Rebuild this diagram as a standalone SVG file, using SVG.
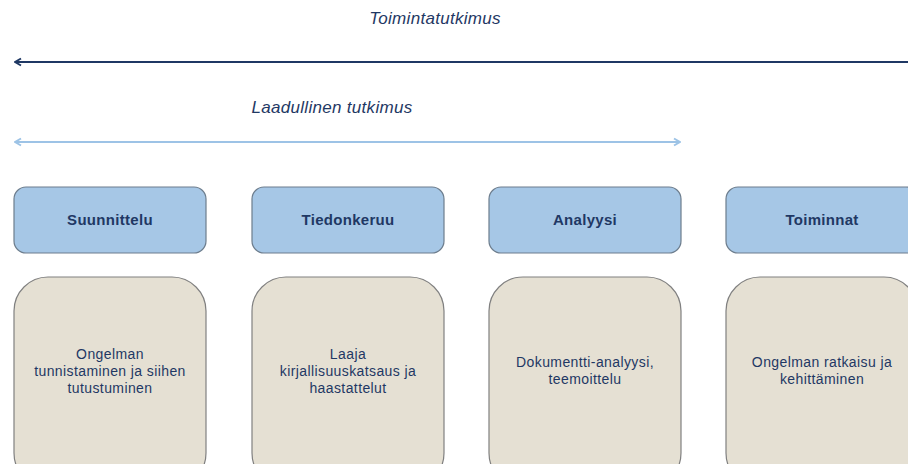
<svg xmlns="http://www.w3.org/2000/svg" width="908" height="464" viewBox="0 0 908 464">
<defs>
<style>
.title{font-family:"Liberation Sans",Arial,sans-serif;font-style:italic;font-size:17px;letter-spacing:0.3px;fill:#1f3864;text-anchor:middle}
.hdr rect{fill:#a6c7e6;stroke:#6d7d8d;stroke-width:1.2}
.hdr text{font-family:"Liberation Sans",Arial,sans-serif;font-weight:bold;font-size:15px;letter-spacing:0.3px;fill:#1f3864;text-anchor:middle}
.body rect{fill:#e5e0d3;stroke:#808080;stroke-width:1.2}
.body text{font-family:"Liberation Sans",Arial,sans-serif;font-size:14px;letter-spacing:0.4px;fill:#1f3864;text-anchor:middle}
</style>
<marker id="ahDark" viewBox="0 0 10 10" refX="9" refY="5" markerWidth="10" markerHeight="10" orient="auto-start-reverse" markerUnits="userSpaceOnUse">
<path d="M3,1.5 L9,5 L3,8.5" fill="none" stroke="#1f3864" stroke-width="2"/>
</marker>
<marker id="ahLight" viewBox="0 0 10 10" refX="9" refY="5" markerWidth="10" markerHeight="10" orient="auto-start-reverse" markerUnits="userSpaceOnUse">
<path d="M3,1.5 L9,5 L3,8.5" fill="none" stroke="#9dc3e6" stroke-width="2"/>
</marker>
</defs>
<rect width="908" height="464" fill="#ffffff"/>
<text class="title" x="435" y="24">Toimintatutkimus</text>
<text class="title" x="332" y="113">Laadullinen tutkimus</text>
<g id="connectors">
<line x1="15" y1="62" x2="910" y2="62" stroke="#1f3864" stroke-width="2" marker-start="url(#ahDark)"/>
<line x1="15" y1="142" x2="680" y2="142" stroke="#9dc3e6" stroke-width="2" marker-start="url(#ahLight)" marker-end="url(#ahLight)"/>
</g>
<g id="h1" class="hdr"><rect x="14" y="187" width="192" height="66" rx="12"/><text x="110" y="225">Suunnittelu</text></g>
<g id="h2" class="hdr"><rect x="252" y="187" width="192" height="66" rx="12"/><text x="348" y="225">Tiedonkeruu</text></g>
<g id="h3" class="hdr"><rect x="489" y="187" width="192" height="66" rx="12"/><text x="585" y="225">Analyysi</text></g>
<g id="h4" class="hdr"><rect x="726" y="187" width="192" height="66" rx="12"/><text x="822" y="225">Toiminnat</text></g>
<g id="b1" class="body"><rect x="14" y="277" width="192" height="210" rx="34"/><text x="110" y="359">Ongelman</text><text x="110" y="376">tunnistaminen ja siihen</text><text x="110" y="393">tutustuminen</text></g>
<g id="b2" class="body"><rect x="252" y="277" width="192" height="210" rx="34"/><text x="348" y="359">Laaja</text><text x="348" y="376">kirjallisuuskatsaus ja</text><text x="348" y="393">haastattelut</text></g>
<g id="b3" class="body"><rect x="489" y="277" width="192" height="210" rx="34"/><text x="585" y="367">Dokumentti-analyysi,</text><text x="585" y="384">teemoittelu</text></g>
<g id="b4" class="body"><rect x="726" y="277" width="192" height="210" rx="34"/><text x="822" y="367">Ongelman ratkaisu ja</text><text x="822" y="384">kehittäminen</text></g>
</svg>
